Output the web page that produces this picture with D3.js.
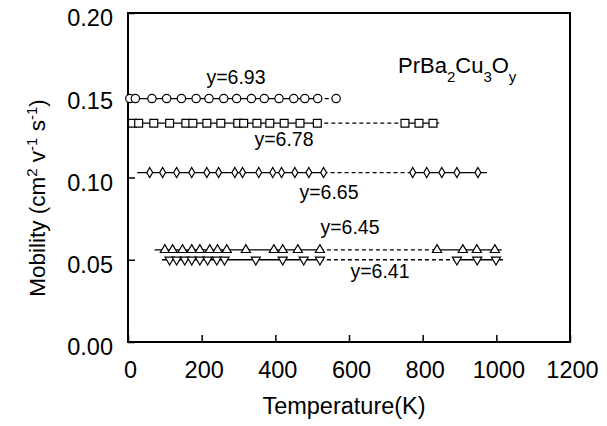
<!DOCTYPE html>
<html>
<head>
<meta charset="utf-8">
<script src="https://cdn.jsdelivr.net/npm/d3@7"></script>
<style>
  body { margin: 0; background: #fff; }
  svg text { font-family: "Liberation Sans", Arial, sans-serif; fill: #000; }
</style>
</head>
<body>
<svg id="chart" width="607" height="426"></svg>
<script>
// axis ticks
const xTicks = [0, 200, 400, 600, 800, 1000, 1200];
const yTicks = [0.00, 0.05, 0.10, 0.15, 0.20];

// y=6.93 (circles)
const tempO = [5, 20, 65, 105, 145, 185, 220, 260, 295, 335, 370, 410, 450, 480, 515, 565];
const mobO = [0.148, 0.148, 0.148, 0.148, 0.148, 0.148, 0.148, 0.148, 0.148, 0.148, 0.148, 0.148, 0.148, 0.148, 0.148, 0.148];

// y=6.78 (squares)
const tempS = [12, 29, 70, 113, 157, 176, 214, 252, 298, 314, 350, 385, 424, 467, 514, 752, 790, 828];
const mobS = [0.133, 0.133, 0.133, 0.133, 0.133, 0.133, 0.133, 0.133, 0.133, 0.133, 0.133, 0.133, 0.133, 0.133, 0.133, 0.133, 0.133, 0.133];

// y=6.65 (diamonds)
const tempD = [59, 94, 132, 173, 214, 246, 290, 311, 355, 393, 417, 453, 491, 531, 773, 811, 852, 893, 950];
const mobD = [0.103, 0.103, 0.103, 0.103, 0.103, 0.103, 0.103, 0.103, 0.103, 0.103, 0.103, 0.103, 0.103, 0.103, 0.103, 0.103, 0.103, 0.103, 0.103];

// y=6.45 (triangles up)
const tempU = [100, 121, 148, 173, 195, 222, 243, 268, 320, 396, 420, 461, 521, 839, 909, 947, 996];
const mobU = [0.056, 0.056, 0.056, 0.056, 0.056, 0.056, 0.056, 0.056, 0.056, 0.056, 0.056, 0.056, 0.056, 0.056, 0.056, 0.056, 0.056];

// y=6.41 (triangles down)
const tempV = [113, 132, 154, 173, 195, 216, 241, 262, 347, 420, 477, 521, 893, 948, 999];
const mobV = [0.050, 0.050, 0.050, 0.050, 0.050, 0.050, 0.050, 0.050, 0.050, 0.050, 0.050, 0.050, 0.050, 0.050, 0.050];

// fit line extents [start, dashFrom, dashTo, end] in K
const lineO = [5, 515, 565, 565];
const lineS = [12, 514, 752, 845];
const lineD = [25, 531, 773, 975];
const lineU = [72, 521, 839, 1015];
const lineV = [92, 521, 893, 1018];

const labels = ["y=6.93", "y=6.78", "y=6.65", "y=6.45", "y=6.41"];

const series = [
  { temp: tempO, mob: mobO, line: lineO, symbol: d3.symbolCircle, size: 55, label: labels[0], lx: 236, ly: 84 },
  { temp: tempS, mob: mobS, line: lineS, symbol: d3.symbolSquare, size: 62, label: labels[1], lx: 284, ly: 146 },
  { temp: tempD, mob: mobD, line: lineD, symbol: d3.symbolDiamond, size: 30, label: labels[2], lx: 329, ly: 199 },
  { temp: tempU, mob: mobU, line: lineU, symbol: d3.symbolTriangle, size: 36, label: labels[3], lx: 350, ly: 234 },
  { temp: tempV, mob: mobV, line: lineV, symbol: d3.symbolTriangle, size: 36, flip: true, label: labels[4], lx: 380, ly: 278 }
];

const svg = d3.select("#chart");
const plotLeft = 128, plotRight = 570, plotTop = 13, plotBottom = 342;

const x = d3.scaleLinear().domain([0, 1200]).range([plotLeft, plotRight]);
const y = d3.scaleLinear().domain([0, 0.2]).range([plotBottom, plotTop]);

// axes, ticks pointing inward
const xAxis = svg.append("g")
  .attr("transform", `translate(0,${plotBottom})`)
  .call(d3.axisBottom(x).tickValues(xTicks).tickFormat(d3.format("d")).tickSize(-7).tickSizeOuter(0).tickPadding(19));
xAxis.select(".domain").remove();
xAxis.selectAll("text").style("font-size", "23.5px").attr("dx", 2);

const yAxis = svg.append("g")
  .attr("transform", `translate(${plotLeft},0)`)
  .call(d3.axisLeft(y).tickValues(yTicks).tickFormat(d3.format(".2f")).tickSize(-7).tickSizeOuter(0).tickPadding(15));
yAxis.select(".domain").remove();
yAxis.selectAll("text").style("font-size", "23.5px").attr("dy", "0.55em");

svg.selectAll(".tick line").attr("stroke", "#000").attr("stroke-width", 1.5);

// frame
svg.append("rect")
  .attr("x", plotLeft).attr("y", plotTop)
  .attr("width", plotRight - plotLeft).attr("height", plotBottom - plotTop)
  .attr("fill", "none").attr("stroke", "#000").attr("stroke-width", 2);

// lines and markers
series.forEach((s) => {
  const level = d3.mean(s.mob);
  const [a, b, c, e] = s.line;
  const g = svg.append("g");

  g.append("line")
    .attr("x1", x(a)).attr("x2", x(b))
    .attr("y1", y(level)).attr("y2", y(level))
    .attr("stroke", "#000").attr("stroke-width", 1.3);
  g.append("line")
    .attr("x1", x(b)).attr("x2", x(c))
    .attr("y1", y(level)).attr("y2", y(level))
    .attr("stroke", "#000").attr("stroke-width", 1.3)
    .attr("stroke-dasharray", "4,3");
  if (e > c) {
    g.append("line")
      .attr("x1", x(c)).attr("x2", x(e))
      .attr("y1", y(level)).attr("y2", y(level))
      .attr("stroke", "#000").attr("stroke-width", 1.3);
  }

  const sym = d3.symbol().type(s.symbol).size(s.size);
  g.selectAll("path.pt")
    .data(s.temp.map((t, i) => ({ t, m: s.mob[i] })))
    .enter()
    .append("path")
    .attr("class", "pt")
    .attr("d", sym)
    .attr("transform", (d) => `translate(${x(d.t)},${y(d.m)})` + (s.flip ? " rotate(180)" : ""))
    .attr("fill", "#fff")
    .attr("stroke", "#000")
    .attr("stroke-width", 1.2);

  svg.append("text")
    .attr("x", s.lx)
    .attr("y", s.ly)
    .attr("text-anchor", "middle")
    .style("font-size", "19.5px")
    .text(s.label);
});

// compound label
const comp = svg.append("text")
  .attr("x", 398)
  .attr("y", 73)
  .style("font-size", "22px");
comp.append("tspan").text("PrBa");
comp.append("tspan").attr("dy", 9).style("font-size", "15px").text("2");
comp.append("tspan").attr("dy", -9).text("Cu");
comp.append("tspan").attr("dy", 9).style("font-size", "15px").text("3");
comp.append("tspan").attr("dy", -9).text("O");
comp.append("tspan").attr("dy", 9).style("font-size", "15px").text("y");

// axis titles
svg.append("text")
  .attr("x", 344)
  .attr("y", 414)
  .attr("text-anchor", "middle")
  .style("font-size", "23.5px")
  .text("Temperature(K)");

const yt = svg.append("text")
  .attr("transform", "translate(45,198) rotate(-90)")
  .attr("text-anchor", "middle")
  .style("font-size", "22.5px");
yt.append("tspan").text("Mobility (cm");
yt.append("tspan").attr("dy", -8).style("font-size", "15px").text("2");
yt.append("tspan").attr("dy", 8).text(" v");
yt.append("tspan").attr("dy", -8).style("font-size", "15px").text("-1");
yt.append("tspan").attr("dy", 8).text("  s");
yt.append("tspan").attr("dy", -8).style("font-size", "15px").text("-1");
yt.append("tspan").attr("dy", 8).text(")");
</script>
</body>
</html>
